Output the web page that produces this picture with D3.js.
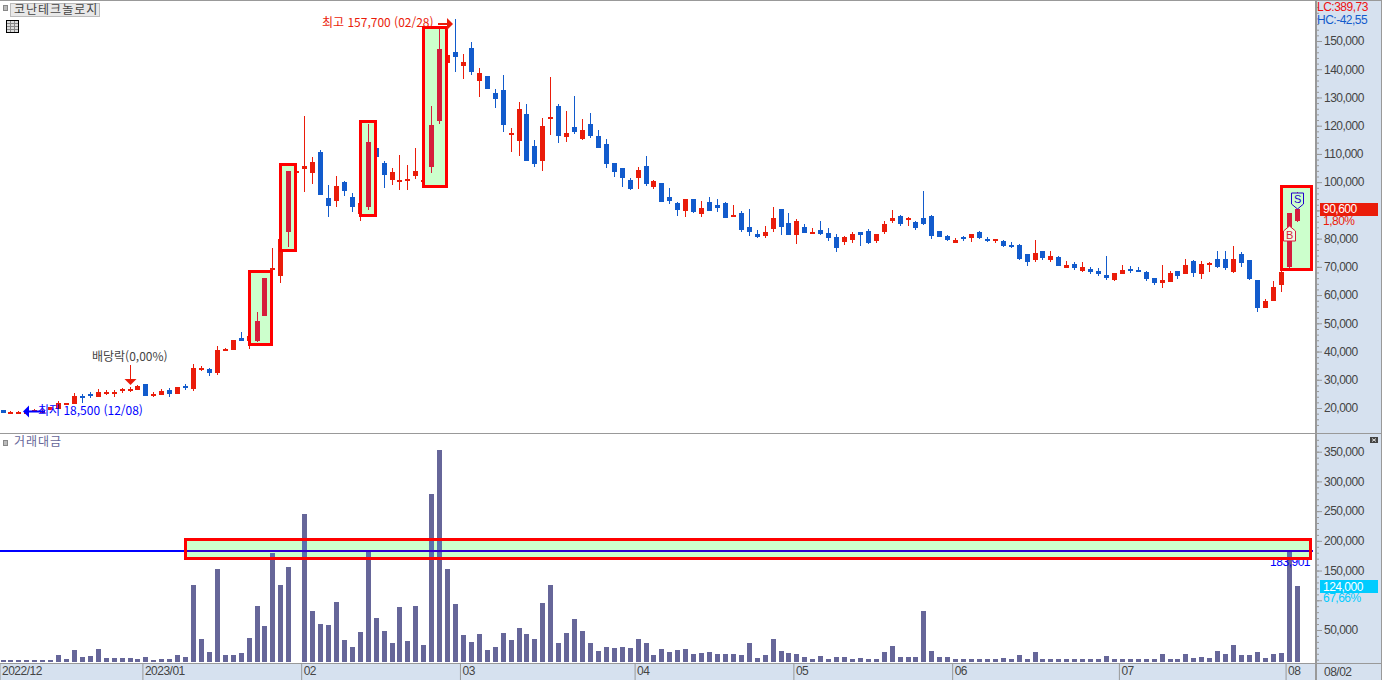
<!DOCTYPE html>
<html lang="ko">
<head>
<meta charset="utf-8">
<title>코난테크놀로지</title>
<script src="https://cdn.jsdelivr.net/npm/d3@7"></script>
<style>
  html, body { margin: 0; padding: 0; background: #fff; overflow: hidden; }
  svg { display: block; }
  text { font-family: "Liberation Sans", "Noto Sans CJK KR", sans-serif; font-size: 12px; letter-spacing: -0.5px; }
  .kr { font-family: "Noto Sans CJK KR", sans-serif; letter-spacing: 0; }
  .title { font-family: "Noto Sans CJK KR", sans-serif; letter-spacing: 1px; }
  .axis text { fill: #444; }
  .axis line { stroke: #999; }
</style>
</head>
<body>
<svg id="chart" width="1382" height="680"></svg>
<script>
// daily candles 2022/12 .. 2023/08/02
const opens = [
  19400,18500,18400,18500,19000,18700,19300,19800,21100,21500,
  24400,24800,23900,25300,25000,26000,26400,26400,28500,24400,
  24600,26400,25000,27800,26700,33800,33800,32400,40200,40500,
  44800,43700,43700,52600,68900,66800,82500,103700,104700,103200,
  110700,94400,93300,100100,94700,88700,91200,112100,106800,100800,
  100400,100800,102200,100200,105400,121700,142200,146100,141100,147500,
  135800,137600,131600,132600,116700,114600,124100,112800,107500,122400,
  127000,116000,119500,115300,120600,116300,113500,106800,105000,100800,
  101500,105700,98300,99700,94700,92600,89800,94000,88700,93000,
  91900,92600,88000,89100,84100,81600,80900,83400,90500,85500,
  81300,84100,81600,83100,82000,80600,78800,79500,82300,82700,
  79200,82300,86200,88000,86900,85900,87300,88000,82700,80900,
  78400,80600,80200,82300,79900,79500,79200,77700,77700,74600,
  72400,75600,72400,73500,69600,71000,68500,69200,68500,67100,
  65300,67500,69200,68900,68200,66100,64300,64600,68500,67500,
  72100,67500,70700,72800,72800,68200,74600,72400,65300,55400,
  57900,63600,70000,86200
];
const highs = [
  19400,18900,19000,18900,19700,19600,20400,22500,21800,25200,
  24800,25700,26600,26400,26300,27200,27400,28000,28500,25600,
  26700,27100,27400,28500,35600,34900,34200,42000,41300,44100,
  46900,45500,54000,66100,76700,79900,103900,104200,123400,108900,
  111400,99000,102200,100400,96200,92600,120600,112500,107500,105000,
  109600,106100,112100,101200,127000,154200,145000,157700,145400,149600,
  140400,137600,133000,138000,119200,128400,127700,114900,122700,137200,
  127700,125200,130500,122400,124500,118500,115300,106800,105000,101500,
  105400,109300,100800,99700,97900,93000,94000,94000,93300,94700,
  94000,93000,91900,89800,90500,83100,84500,91200,90500,89100,
  86900,85200,83800,86200,83800,81600,80900,82300,82300,83400,
  81600,86200,90100,88400,87700,86200,96900,88400,82700,81300,
  80200,80900,81600,82700,80600,79900,79500,78800,78100,74600,
  79500,75600,75600,73800,72100,71700,71700,69900,69600,73800,
  67800,70700,70300,69900,68500,66100,70700,68500,68500,72800,
  72400,72100,71700,75600,75600,77400,75300,72400,65300,58600,
  65000,68900,89000,96500
];
const lows = [
  18300,18200,18000,18300,18800,18200,19300,19700,21100,21500,
  21900,23500,23900,24700,23900,25300,25700,26400,24300,23900,
  24600,23900,25000,26500,26000,33100,31300,31700,40200,40500,
  43700,40900,43400,52600,67800,64300,77000,103500,96500,99300,
  95400,87700,91200,95100,89400,86200,90100,108900,97900,99000,
  97200,97200,101100,99800,103200,120600,142200,139000,136500,138000,
  130200,133000,126300,117800,110700,109300,107500,105400,103900,116700,
  113900,114200,117100,114900,115600,112100,105000,101800,98300,97200,
  97600,98600,97600,93000,92300,88000,87700,89100,87700,89800,
  89400,87300,87700,82300,80900,80200,80200,82300,81300,81300,
  78100,82000,81600,81300,79200,75300,77700,78400,77400,78100,
  78400,81600,85500,84500,84500,83100,84800,79900,80600,79200,
  78400,79200,78800,79900,78800,78400,77000,76600,72400,70300,
  71700,72400,71700,70300,69600,68900,68200,67500,66800,65300,
  65000,67500,67800,68200,65000,63600,62500,64600,65700,67500,
  66400,65700,68200,69600,68900,67800,69900,65300,54000,55400,
  57900,61100,69600,85900
];
const closes = [
  18300,18700,18600,18700,19400,19100,20400,21700,21800,24300,
  23700,24100,25700,25700,25700,26600,26900,27800,24300,25000,
  26000,25000,27400,27100,34200,34300,32400,40500,40900,44100,
  43700,45500,50800,66100,69600,79900,103900,103900,105700,107100,
  95400,91600,98600,96900,91200,92600,114200,108900,102500,103600,
  100800,101100,103900,100800,120200,147200,145000,144300,142600,139000,
  138700,133000,129500,120200,117400,125900,107500,106400,119900,123100,
  116300,117400,117800,118500,116300,112100,106400,103600,101500,97600,
  104300,99300,100400,93000,93300,90100,94000,89400,90800,89800,
  90800,87300,88400,83100,82300,80600,82300,87300,84100,81300,
  86200,82000,82300,81600,80200,76700,80600,81600,81300,78400,
  81600,85200,87300,85200,87300,83800,85200,80900,80600,79500,
  79500,79900,81600,80200,79500,79900,77400,77000,72800,71700,
  74900,73100,73800,70300,70700,69600,69900,68200,67500,66100,
  67800,68900,68500,68200,65700,64300,65300,67800,66800,70700,
  67800,71000,71400,69900,69600,72800,71400,65700,55400,57900,
  62900,68200,89000,90600
];
const amounts = [
  300,300,300,300,300,300,300,7900,1200,16300,
  4600,6200,18000,2900,2900,2900,2900,1200,4600,300,
  1200,1200,7900,4600,125700,34800,13000,152600,7900,7900,
  11300,36500,90400,56700,179500,125700,156000,0,245100,81900,
  60100,58400,97100,33200,21400,46600,182900,70200,48300,28100,
  88700,31500,90400,24700,278700,352800,152600,93700,41600,29800,
  43200,16300,21400,44900,33100,53300,43200,34800,95400,125600,
  28100,44900,68500,48300,28100,14600,21400,19700,21400,19700,
  34800,28100,7900,18000,12900,16300,18000,9600,11300,12900,
  9600,9600,9600,7900,28100,2800,7900,34800,14600,11300,
  9600,4500,1200,6200,1200,4500,4500,1200,2800,1200,
  1200,12900,23000,4500,4500,4500,81900,14600,4500,4500,
  1200,1200,1200,1200,1200,1200,2900,1200,7900,1200,
  13000,1200,1200,1200,400,400,400,400,400,6200,
  400,1200,400,400,400,400,9600,1200,400,9600,
  2900,4600,2900,14600,9600,24700,7900,7900,13000,2900,
  9600,11300,183901,124000
];

const monthIndex = [0, 18, 38, 58, 80, 100, 120, 141, 162];
const monthLabels = ['2022/12', '2023/01', '02', '03', '04', '05', '06', '07', '08'];

const priceTicks = d3.range(20000, 160000, 10000);
const priceHidden = [90000];
const amountTicks = [50000, 100000, 150000, 200000, 250000, 300000, 350000];
const amountHidden = [100000];

// highlighted ranges: [first, last, top price, bottom price]
const priceBoxes = [
  [32, 33, 68700, 42500],
  [36, 36, 106300, 75900],
  [46, 46, 121500, 88500],
  [54, 55, 155100, 98500],
  [162, 164, 98800, 69100]
];
const amountBand = [23, 164.75, 203900, 170300];
const amountLevel = 183901;
const lastPrice = 90600;
const buyPrice = 84500;
const sellPrice = 90600;

const RED = '#EA1C0A';
const BLUE = '#125BCC';
const CRIMSON = '#D61D3C';
const BAR = '#666699';
const PANEL = '#D6E1EF';
const GRID = '#999999';
const AXIS_X = 1315;

const svg = d3.select('#chart');

const xScale = d3.scaleLinear().domain([0, 163]).range([3, 1297.03]);
const px = i => Math.floor(xScale(i));
const priceY = d3.scaleLinear().domain([20000, 150000]).range([408, 41]);
const amountY = d3.scaleLinear().domain([0, 350000]).range([659.7, 451.7]);
const AMOUNT_BASE = 662;

const inBox = i => priceBoxes.some(b => i >= b[0] && i <= b[1]);

// panels behind the marks
svg.append('rect').attr('x', AXIS_X).attr('y', 0).attr('width', 67).attr('height', 680).attr('fill', PANEL);
svg.append('rect').attr('x', 0).attr('y', 663).attr('width', 1382).attr('height', 17).attr('fill', PANEL);

const drawCandles = (parent, idx, colorOf) => {
  const g = parent.append('g').attr('shape-rendering', 'crispEdges');
  g.selectAll('.wick').data(idx).join('rect')
    .attr('class', 'wick')
    .attr('x', i => px(i))
    .attr('y', i => Math.round(priceY(highs[i])))
    .attr('width', 1)
    .attr('height', i => Math.max(1, Math.round(priceY(lows[i])) - Math.round(priceY(highs[i]))))
    .attr('fill', colorOf);
  g.selectAll('.body').data(idx).join('rect')
    .attr('class', 'body')
    .attr('x', i => px(i) - 2)
    .attr('y', i => Math.round(priceY(Math.max(opens[i], closes[i]))))
    .attr('width', 5)
    .attr('height', i => Math.max(2, Math.round(priceY(Math.min(opens[i], closes[i]))) - Math.round(priceY(Math.max(opens[i], closes[i])))))
    .attr('fill', colorOf);
};

const allIdx = d3.range(opens.length);
drawCandles(svg, allIdx, i => closes[i] >= opens[i] ? RED : BLUE);

// boxes go over their neighbours, their own candles come back on top
svg.append('g').attr('shape-rendering', 'crispEdges')
  .selectAll('rect').data(priceBoxes).join('rect')
  .attr('x', b => px(b[0]) - 7.5)
  .attr('y', b => Math.round(priceY(b[2])) + 0.5)
  .attr('width', b => px(b[1]) - px(b[0]) + 15)
  .attr('height', b => Math.round(priceY(b[3])) - Math.round(priceY(b[2])))
  .attr('fill', '#CCFFCC')
  .attr('stroke', '#FF0000')
  .attr('stroke-width', 3);
drawCandles(svg, allIdx.filter(inBox), () => CRIMSON);

// volume pane
const bandX0 = xScale(amountBand[0]);
const bandX1 = xScale(amountBand[1]);
const bandY0 = Math.round(amountY(amountBand[2])) + 0.5;
const bandY1 = Math.round(amountY(amountBand[3])) + 0.5;

svg.append('rect')
  .attr('x', bandX0).attr('y', bandY0)
  .attr('width', bandX1 - bandX0).attr('height', bandY1 - bandY0)
  .attr('fill', '#CCFFCC');

svg.append('defs').append('clipPath').attr('id', 'band-clip').append('rect')
  .attr('x', bandX0).attr('y', bandY0)
  .attr('width', bandX1 - bandX0).attr('height', bandY1 - bandY0);

const drawBars = (parent, color) => parent.append('g').attr('shape-rendering', 'crispEdges')
  .selectAll('rect').data(allIdx.filter(i => amounts[i] > 0)).join('rect')
  .attr('x', i => px(i) - 2)
  .attr('y', i => Math.round(amountY(amounts[i])))
  .attr('width', 5)
  .attr('height', i => AMOUNT_BASE - Math.round(amountY(amounts[i])))
  .attr('fill', color);

drawBars(svg, BAR);
drawBars(svg.append('g').attr('clip-path', 'url(#band-clip)'), '#5A70AC');

const levelY = Math.round(amountY(amountLevel));
svg.append('rect').attr('x', 0).attr('y', levelY).attr('width', AXIS_X - 2).attr('height', 2).attr('fill', '#0000FF');
svg.append('rect').attr('x', bandX0).attr('y', levelY).attr('width', AXIS_X - 2 - bandX0).attr('height', 2).attr('fill', '#3300CC');

svg.append('text')
  .attr('x', 1310).attr('y', levelY + 16)
  .attr('text-anchor', 'end')
  .attr('fill', '#0000FF')
  .text(d3.format(',')(amountLevel));

svg.append('rect')
  .attr('x', bandX0).attr('y', bandY0)
  .attr('width', bandX1 - bandX0).attr('height', bandY1 - bandY0)
  .attr('fill', 'none').attr('stroke', '#FF0000').attr('stroke-width', 3)
  .attr('shape-rendering', 'crispEdges');

// right side axes
const fmt = d3.format(',');
const priceAxis = d3.axisRight(priceY).tickValues(priceTicks).tickSize(7).tickPadding(2)
  .tickFormat(d => priceHidden.includes(d) ? '' : fmt(d));
const priceMinor = d3.axisRight(priceY).tickValues(d3.range(14000, 164000, 2000)).tickSize(4).tickFormat('');
const amountAxis = d3.axisRight(amountY).tickValues(amountTicks).tickSize(7).tickPadding(2)
  .tickFormat(d => amountHidden.includes(d) ? '' : fmt(d));
const amountMinor = d3.axisRight(amountY).tickValues(d3.range(0, 380000, 10000)).tickSize(4).tickFormat('');

[priceMinor, amountMinor, priceAxis, amountAxis].forEach(axis => {
  const g = svg.append('g').attr('class', 'axis').attr('transform', `translate(${AXIS_X},0)`).call(axis);
  g.select('.domain').remove();
  g.attr('font-family', null).attr('font-size', null);
});

// month axis, ticks sit a little left of the first candle of the month
const monthScale = d3.scaleLinear().domain(xScale.domain()).range(xScale.range().map(d => d - 3.5));
const monthAxis = d3.axisBottom(monthScale).tickValues(monthIndex).tickSize(17)
  .tickFormat((d, i) => monthLabels[i]);
const monthG = svg.append('g').attr('class', 'axis').attr('transform', 'translate(0,663)').call(monthAxis);
monthG.select('.domain').remove();
monthG.attr('font-family', null).attr('font-size', null);
monthG.selectAll('text').attr('text-anchor', 'start').attr('x', 2).attr('y', 8).attr('dy', '.35em');

// frame
const frame = [[0, 0.5, 1382, 0.5], [0, 433.5, 1382, 433.5], [0, 663.5, 1382, 663.5], [1381.5, 0, 1381.5, 680]];
svg.append('g').selectAll('line').data(frame).join('line')
  .attr('x1', d => d[0]).attr('y1', d => d[1]).attr('x2', d => d[2]).attr('y2', d => d[3])
  .attr('stroke', GRID);
svg.append('rect').attr('x', AXIS_X).attr('y', 0).attr('width', 2).attr('height', 680).attr('fill', GRID);

const label = (x, y, str, color, cls) => svg.append('text')
  .attr('class', cls || null)
  .attr('x', x).attr('y', y).attr('dy', '.35em')
  .attr('fill', color)
  .text(str);

// value tags on the axes
svg.append('rect').attr('x', 1320).attr('y', Math.round(priceY(lastPrice)) - 6).attr('width', 58).attr('height', 13).attr('fill', RED);
label(1323, priceY(lastPrice) + 0.5, fmt(lastPrice), '#fff');
label(1323, priceY(lastPrice) + 12.5, '1,80%', RED);

svg.append('rect').attr('x', 1320).attr('y', Math.round(amountY(124000)) - 6).attr('width', 58).attr('height', 13).attr('fill', '#00CCFF');
label(1323, amountY(124000) + 0.5, fmt(124000), '#fff');
label(1323, amountY(124000) + 12, '67,66%', '#00CCFF');

label(1317, 7, 'LC:389,73', '#EE1111');
label(1317, 20, 'HC:-42,55', BLUE);
label(1324, 671.5, '08/02', '#444');

// header bits
svg.append('rect').attr('x', 3.5).attr('y', 5.5).attr('width', 4).attr('height', 5).attr('fill', '#bbb').attr('stroke', '#888');
svg.append('rect').attr('x', 10.5).attr('y', 3.5).attr('width', 89).attr('height', 13).attr('fill', '#E8E8E8').attr('stroke', '#BBB');
label(14, 10, '코난테크놀로지', '#444', 'title');

const grid = svg.append('g').attr('shape-rendering', 'crispEdges');
grid.append('rect').attr('x', 6.5).attr('y', 20.5).attr('width', 12).attr('height', 12).attr('fill', '#ddd').attr('stroke', '#000');
grid.selectAll('.v').data([10.5, 14.5]).join('line').attr('class', 'v')
  .attr('x1', d => d).attr('x2', d => d).attr('y1', 21).attr('y2', 32).attr('stroke', '#888');
grid.selectAll('.h').data([23.5, 26.5, 29.5]).join('line').attr('class', 'h')
  .attr('x1', 7).attr('x2', 18).attr('y1', d => d).attr('y2', d => d).attr('stroke', '#888');

svg.append('rect').attr('x', 3.5).attr('y', 440.5).attr('width', 4).attr('height', 5).attr('fill', '#bbb').attr('stroke', '#888');
label(14, 442, '거래대금', BAR, 'title');

svg.append('rect').attr('x', 1370).attr('y', 437).attr('width', 8).attr('height', 6).attr('fill', '#444');
svg.append('path').attr('d', 'M1372 438.5L1376 441.5M1376 438.5L1372 441.5').attr('stroke', '#ddd').attr('fill', 'none');

// high / low / ex-dividend notes
const highX = px(57) - 2;
const highY = 24;
label(322, 23, '최고 157,700 (02/28)', RED, 'kr');
svg.append('rect').attr('x', highX - 15).attr('y', highY - 1).attr('width', 10).attr('height', 2).attr('fill', RED);
svg.append('path').attr('d', d3.line()([[highX - 6, highY - 6], [highX, highY], [highX - 6, highY + 6]]) + 'Z').attr('fill', RED);

const lowX = px(2) + 5;
const lowY = 411.5;
svg.append('rect').attr('x', lowX + 5).attr('y', lowY - 1).attr('width', 17).attr('height', 2).attr('fill', '#0000FF');
svg.append('path').attr('d', d3.line()([[lowX + 6, lowY - 6], [lowX, lowY], [lowX + 6, lowY + 6]]) + 'Z').attr('fill', '#0000FF');
label(38, 410.5, '최저 18,500 (12/08)', '#0000FF', 'kr');

label(92, 357, '배당락(0,00%)', '#444', 'kr');
const divX = px(16) + 0.5;
svg.append('rect').attr('x', divX - 0.5).attr('y', 365).attr('width', 1).attr('height', 14).attr('fill', RED);
svg.append('path').attr('d', d3.line()([[divX - 6, 379], [divX + 6, 379], [divX, 385]]) + 'Z').attr('fill', RED);

// buy / sell flags
const sx = px(163) + 0.5;
const sy = Math.round(priceY(sellPrice));
svg.append('path')
  .attr('d', d3.line()([[sx - 6, sy - 16], [sx + 6, sy - 16], [sx + 6, sy - 5], [sx, sy], [sx - 6, sy - 5]]) + 'Z')
  .attr('fill', '#CCFFCC').attr('stroke', '#2200CC');
svg.append('text').attr('x', sx).attr('y', sy - 9.5).attr('dy', '.35em').attr('text-anchor', 'middle')
  .attr('fill', '#2200CC').style('font-size', '11px').text('S');

const bx = px(162) + 0.5;
const by = Math.round(priceY(buyPrice));
svg.append('path')
  .attr('d', d3.line()([[bx, by], [bx + 6, by + 5], [bx + 6, by + 15], [bx - 6, by + 15], [bx - 6, by + 5]]) + 'Z')
  .attr('fill', '#EFFBE4').attr('stroke', CRIMSON);
svg.append('text').attr('x', bx).attr('y', by + 9).attr('dy', '.35em').attr('text-anchor', 'middle')
  .attr('fill', CRIMSON).style('font-size', '11px').text('B');
</script>
</body>
</html>
